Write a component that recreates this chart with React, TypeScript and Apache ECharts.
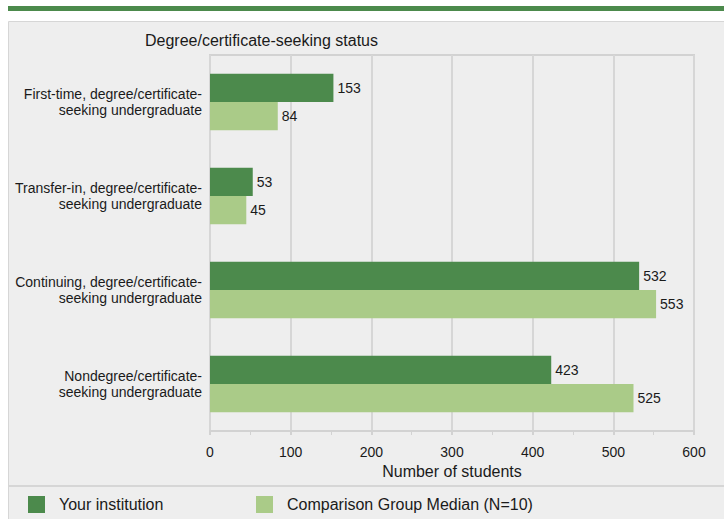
import React, { useEffect, useRef } from "react";
import * as echarts from "echarts";

const categories = [
  "First-time, degree/certificate-\nseeking undergraduate",
  "Transfer-in, degree/certificate-\nseeking undergraduate",
  "Continuing, degree/certificate-\nseeking undergraduate",
  "Nondegree/certificate-\nseeking undergraduate",
];
const yourInstitution = [153, 53, 532, 423];
const comparisonMedian = [84, 45, 553, 525];
const seriesNames = ["Your institution", "Comparison Group Median (N=10)"];
const chartTitle = "Degree/certificate-seeking status";
const xAxisName = "Number of students";

const DARK = "#4c8a4c";
const LIGHT = "#aacb88";
const FONT = "Arial, Liberation Sans, Helvetica, sans-serif";
const TEXT = "#1a1a1a";

export default function App() {
  const ref = useRef<HTMLDivElement>(null);
  useEffect(() => {
    document.body.style.margin = "0";
    const chart = echarts.init(ref.current!, undefined, { renderer: "svg" });
    const legendBase = {
      top: 496,
      padding: 0,
      itemWidth: 17,
      itemHeight: 17,
      icon: "rect",
      textStyle: { fontSize: 16, color: TEXT, fontFamily: FONT, padding: [0, 0, 0, 9] },
    };
    chart.setOption({
      animation: false,
      textStyle: { fontFamily: FONT, color: TEXT },
      graphic: [
        {
          type: "rect",
          shape: { x: 8, y: 6, width: 716, height: 5 },
          style: { fill: DARK },
          z: -10,
        },
        {
          type: "rect",
          shape: { x: 8.5, y: 21.5, width: 730, height: 520 },
          style: { fill: "#eeeeee", stroke: "#d6d6d6", lineWidth: 1 },
          z: -10,
        },
        {
          type: "line",
          shape: { x1: 9, y1: 486, x2: 724, y2: 486 },
          style: { stroke: "#d6d6d6", lineWidth: 2 },
          z: -9,
        },
        {
          type: "text",
          x: 145,
          y: 40,
          style: {
            text: chartTitle,
            font: `16px ${FONT}`,
            fill: TEXT,
            textVerticalAlign: "middle",
          },
        },
      ],
      legend: [
        { ...legendBase, data: [seriesNames[0]], left: 28 },
        { ...legendBase, data: [seriesNames[1]], left: 256 },
      ],
      grid: {
        left: 210,
        right: 30,
        top: 55,
        bottom: 88,
        show: true,
        borderColor: "#d2d2d2",
        borderWidth: 2,
        backgroundColor: "transparent",
      },
      xAxis: {
        type: "value",
        min: 0,
        max: 600,
        interval: 100,
        name: xAxisName,
        nameLocation: "middle",
        nameGap: 32,
        nameTextStyle: { fontSize: 16, color: TEXT, fontFamily: FONT },
        axisLine: { show: true, lineStyle: { color: "#d2d2d2", width: 2 } },
        axisTick: { show: true, length: 4, lineStyle: { color: "#d2d2d2", width: 2 } },
        minorTick: { show: true, splitNumber: 2, length: 4, lineStyle: { color: "#d2d2d2", width: 1 } },
        axisLabel: { fontSize: 14, color: TEXT, margin: 14, fontFamily: FONT },
        splitLine: { show: true, lineStyle: { color: "#d6d6d6", width: 2 } },
      },
      yAxis: {
        type: "category",
        data: categories,
        inverse: true,
        axisLine: { show: false },
        axisTick: { show: false },
        splitLine: { show: false },
        axisLabel: {
          fontSize: 14,
          lineHeight: 16,
          color: TEXT,
          margin: 8,
          align: "right",
          fontFamily: FONT,
        },
      },
      series: [
        {
          name: seriesNames[0],
          type: "bar",
          data: yourInstitution,
          itemStyle: { color: DARK },
          barGap: "0%",
          barCategoryGap: "40%",
          label: { show: true, position: "right", distance: 4, fontSize: 14, color: TEXT, fontFamily: FONT },
        },
        {
          name: seriesNames[1],
          type: "bar",
          data: comparisonMedian,
          itemStyle: { color: LIGHT },
          barGap: "0%",
          barCategoryGap: "40%",
          label: { show: true, position: "right", distance: 4, fontSize: 14, color: TEXT, fontFamily: FONT },
        },
      ],
    });
    return () => chart.dispose();
  }, []);
  return <div ref={ref} style={{ width: 724, height: 519 }} />;
}
